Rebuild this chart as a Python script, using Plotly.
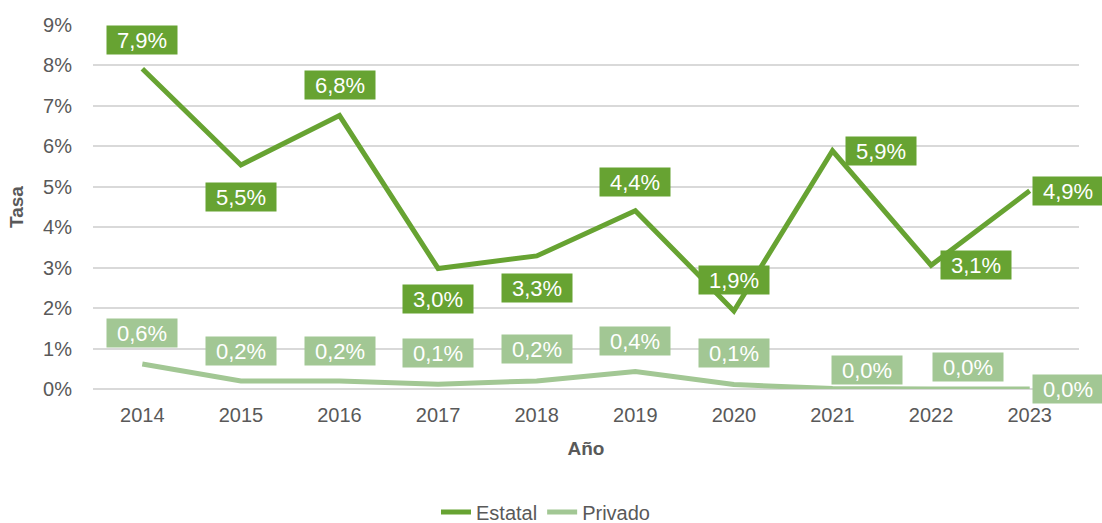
import plotly.graph_objects as go

years = ["2014", "2015", "2016", "2017", "2018", "2019", "2020", "2021", "2022", "2023"]
estatal = [7.92, 5.54, 6.76, 2.98, 3.29, 4.41, 1.93, 5.89, 3.06, 4.90]
privado = [0.62, 0.20, 0.20, 0.12, 0.20, 0.43, 0.11, 0.01, 0.00, 0.00]

y_ticks = [0, 1, 2, 3, 4, 5, 6, 7, 8, 9]
y_tick_text = [f"{v}%" for v in y_ticks]

# label offsets (xshift, yshift) in pixels
est_shift = [(0, 29), (0, -32), (0, 31), (0, -31), (0, -32), (0, 29), (0, 31), (48, 0), (45, 0), (38, 0)]
pri_shift = [(0, 31), (0, 30), (0, 30), (0, 31), (0, 32), (0, 31), (0, 32), (34, 19), (37, 22), (38, 0)]

c_est = "#67a332"
c_pri = "#a2c794"
font_family = "Liberation Sans, Arial, sans-serif"

fig = go.Figure()
fig.add_trace(go.Scatter(x=years, y=estatal, mode="lines", name="Estatal",
                         line=dict(color=c_est, width=5)))
fig.add_trace(go.Scatter(x=years, y=privado, mode="lines", name="Privado",
                         line=dict(color=c_pri, width=5)))

def fmt(v):
    return f"{v:.1f}%".replace(".", ",")

for vals, shifts, col in [(estatal, est_shift, c_est), (privado, pri_shift, c_pri)]:
    for i, (v, (dx, dy)) in enumerate(zip(vals, shifts)):
        fig.add_annotation(x=i, y=v, xref="x", yref="y", text=fmt(v), showarrow=False,
                           xshift=dx, yshift=dy, bgcolor=col, borderpad=3,
                           width=64, height=22, align="center", valign="middle",
                           font=dict(color="white", size=22, family=font_family))

fig.update_layout(
    width=1102, height=523,
    margin=dict(l=93, r=23, t=25, b=134),
    plot_bgcolor="white", paper_bgcolor="white",
    font=dict(family=font_family, color="#595959", size=20),
    showlegend=True,
    legend=dict(orientation="h", x=0.495, xanchor="center", xref="container",
                y=0.021, yanchor="middle", yref="container",
                font=dict(size=20, color="#595959")),
    xaxis=dict(type="category", range=[-0.5, 9.5], showgrid=False, showline=False,
               ticks="", tickfont=dict(size=20, color="#595959"), automargin=False,
               ticklabelstandoff=12,
               title=dict(text="<b>Año</b>", font=dict(size=19, color="#595959"), standoff=16)),
    yaxis=dict(range=[0, 9], tickvals=y_ticks, ticktext=y_tick_text, showgrid=True,
               gridcolor="#d9d9d9", gridwidth=1.5, zeroline=True, zerolinecolor="#d9d9d9",
               zerolinewidth=1.5, showline=False, ticks="", ticklabelstandoff=20,
               automargin=False,
               tickfont=dict(size=20, color="#595959"),
               title=dict(text="<b>Tasa</b>", font=dict(size=19, color="#595959"), standoff=14)),
)

fig.write_html("out.html", config={"displayModeBar": False},
               post_script="document.body.style.margin='0';")
